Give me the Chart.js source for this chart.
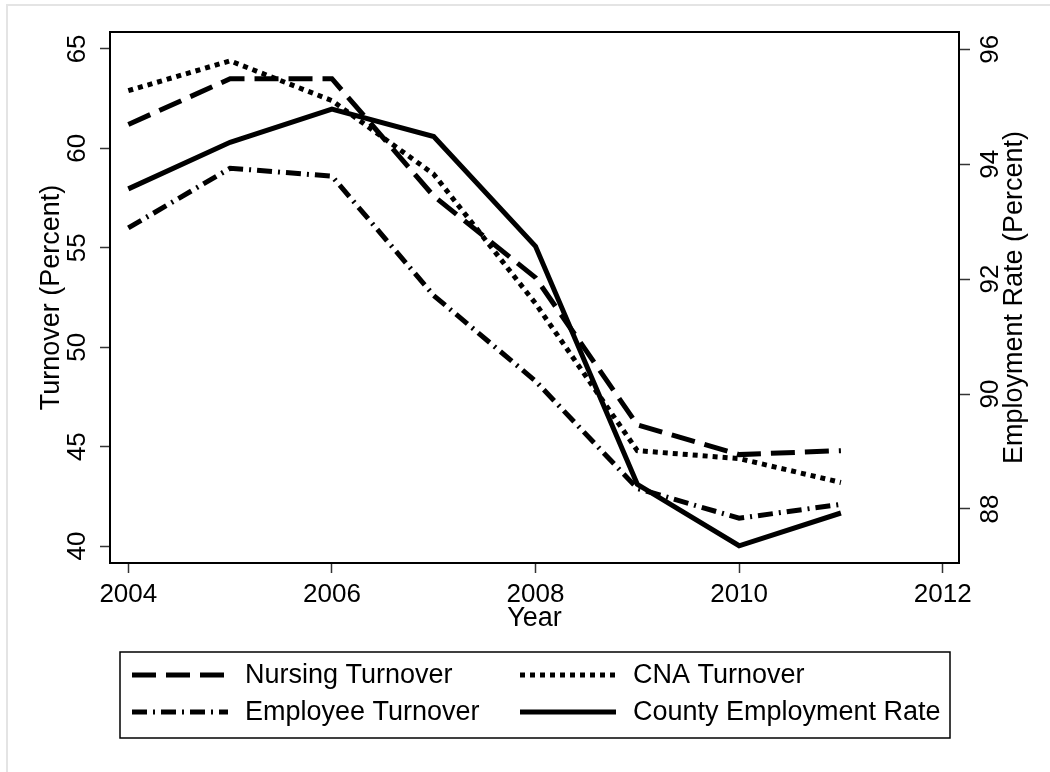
<!DOCTYPE html>
<html>
<head>
<meta charset="utf-8">
<script src="https://cdn.jsdelivr.net/npm/chart.js@4.4.1/dist/chart.umd.min.js"></script>
<style>
  html, body { margin: 0; padding: 0; background: #fff; }
  #wrap { position: relative; width: 1050px; height: 772px; overflow: hidden; }
  #edge { position: absolute; left: 6px; top: 4px; right: 0; bottom: 0;
          border-left: 2px solid #e4e4e4; border-top: 2px solid #e4e4e4; pointer-events: none; }
  canvas { position: absolute; left: 0; top: 0; }
</style>
</head>
<body>
<div id="wrap">
  <canvas id="turnoverChart" width="1050" height="772"></canvas>
  <div id="edge"></div>
</div>
<script>
// values
const years = [2004, 2005, 2006, 2007, 2008, 2009, 2010, 2011];
const nursingTurnover  = [61.2, 63.5, 63.5, 57.6, 53.5, 46.1, 44.6, 44.8];
const cnaTurnover      = [62.9, 64.4, 62.4, 58.7, 52.2, 44.8, 44.4, 43.2];
const employeeTurnover = [56.0, 59.0, 58.6, 52.6, 48.3, 42.9, 41.4, 42.1];
const countyEmployment = [93.57, 94.38, 94.96, 94.48, 92.57, 88.43, 87.36, 87.93];

const yearTicks = [2004, 2006, 2008, 2010, 2012];
const turnoverTicks = [40, 45, 50, 55, 60, 65];
const employmentTicks = [88, 90, 92, 94, 96];

const FONT = '"Liberation Sans", Arial, sans-serif';
const tickFont = { family: FONT, size: 26 };
const titleFont = { family: FONT, size: 27 };

const toPoints = vals => years.map((yr, i) => ({ x: yr, y: vals[i] }));

function series(label, vals, dash, axis) {
  return {
    label,
    data: toPoints(vals),
    yAxisID: axis,
    borderColor: '#000',
    backgroundColor: '#000',
    borderWidth: 5,
    borderDash: dash,
    borderCapStyle: 'butt',
    borderJoinStyle: 'miter',
    pointRadius: 0,
    tension: 0,
    fill: false,
  };
}

// plot frame around the chart area
const framePlugin = {
  id: 'frame',
  afterDraw(chart) {
    const { ctx, chartArea: a } = chart;
    ctx.save();
    ctx.strokeStyle = '#000';
    ctx.lineWidth = 2;
    ctx.strokeRect(a.left, a.top, a.right - a.left, a.bottom - a.top);
    ctx.restore();
  }
};

// right axis title reads bottom to top like the left one
const rightTitlePlugin = {
  id: 'rightTitle',
  afterDraw(chart) {
    const { ctx, chartArea: a } = chart;
    const sc = chart.scales.y2;
    ctx.save();
    ctx.translate(sc.right - 35, (a.top + a.bottom) / 2);
    ctx.rotate(-Math.PI / 2);
    ctx.font = `27px ${FONT}`;
    ctx.fillStyle = '#000';
    ctx.textAlign = 'center';
    ctx.textBaseline = 'middle';
    ctx.fillText('Employment Rate (Percent)', 0, 0);
    ctx.restore();
  }
};

// boxed two-column legend under the axis
const boxLegendPlugin = {
  id: 'boxLegend',
  afterDraw(chart) {
    const { ctx } = chart;
    const box = { x: 120, y: 652, w: 830, h: 86 };
    ctx.save();
    ctx.strokeStyle = '#000';
    ctx.lineWidth = 1.5;
    ctx.strokeRect(box.x, box.y, box.w, box.h);
    const order = [0, 1, 2, 3];
    const cols = [box.x + 12, box.x + 400];
    const rows = [box.y + 23, box.y + 60];
    ctx.font = `27px ${FONT}`;
    ctx.textBaseline = 'middle';
    ctx.fillStyle = '#000';
    order.forEach((di, k) => {
      const ds = chart.data.datasets[di];
      const x = cols[k % 2], y = rows[Math.floor(k / 2)];
      ctx.beginPath();
      ctx.setLineDash(ds.borderDash || []);
      ctx.lineWidth = ds.borderWidth;
      ctx.lineCap = 'butt';
      ctx.moveTo(x, y);
      ctx.lineTo(x + 96, y);
      ctx.stroke();
      ctx.setLineDash([]);
      ctx.fillText(ds.label, x + 113, y + 1);
    });
    ctx.restore();
  }
};

new Chart(document.getElementById('turnoverChart'), {
  type: 'line',
  data: {
    datasets: [
      series('Nursing Turnover', nursingTurnover, [24, 10], 'y'),
      series('CNA Turnover', cnaTurnover, [5, 5], 'y'),
      series('Employee Turnover', employeeTurnover, [15, 6, 2, 6], 'y'),
      series('County Employment Rate', countyEmployment, [], 'y2'),
    ],
  },
  options: {
    responsive: false,
    animation: false,
    layout: { padding: { top: 32, bottom: 137, left: 0, right: 0 } },
    plugins: { legend: { display: false }, tooltip: { enabled: false } },
    scales: {
      x: {
        type: 'linear',
        position: 'bottom',
        min: 2003.82,
        max: 2012.16,
        afterBuildTicks: s => { s.ticks = yearTicks.map(v => ({ value: v })); },
        afterFit: s => { s.height = 72; },
        ticks: { callback: v => String(v), font: tickFont, color: '#000', padding: 6, maxRotation: 0, autoSkip: false },
        grid: { drawOnChartArea: false, tickLength: 10, color: '#333', tickWidth: 1.5 },
        border: { display: false },
        title: { display: true, text: 'Year', font: titleFont, color: '#000', padding: { top: 0, bottom: 0 } },
      },
      y: {
        type: 'linear',
        position: 'left',
        min: 39.15,
        max: 65.85,
        afterBuildTicks: s => { s.ticks = turnoverTicks.map(v => ({ value: v })); },
        afterFit: s => { s.width = 110; },
        ticks: { font: tickFont, color: '#000', padding: 8, minRotation: 90, maxRotation: 90, crossAlign: 'center' },
        grid: { drawOnChartArea: false, tickLength: 10, color: '#333', tickWidth: 1.5 },
        border: { display: false },
        title: { display: true, text: 'Turnover (Percent)', font: titleFont, color: '#000', padding: { top: 35, bottom: 0 } },
      },
      y2: {
        type: 'linear',
        position: 'right',
        min: 87.06,
        max: 96.3,
        afterBuildTicks: s => { s.ticks = employmentTicks.map(v => ({ value: v })); },
        afterFit: s => { s.width = 91; },
        ticks: { font: tickFont, color: '#000', padding: 6, minRotation: 90, maxRotation: 90, crossAlign: 'center' },
        grid: { drawOnChartArea: false, tickLength: 11, color: '#333', tickWidth: 1.5 },
        border: { display: false },
        title: { display: false },
      },
    },
  },
  plugins: [framePlugin, rightTitlePlugin, boxLegendPlugin],
});
</script>
</body>
</html>
